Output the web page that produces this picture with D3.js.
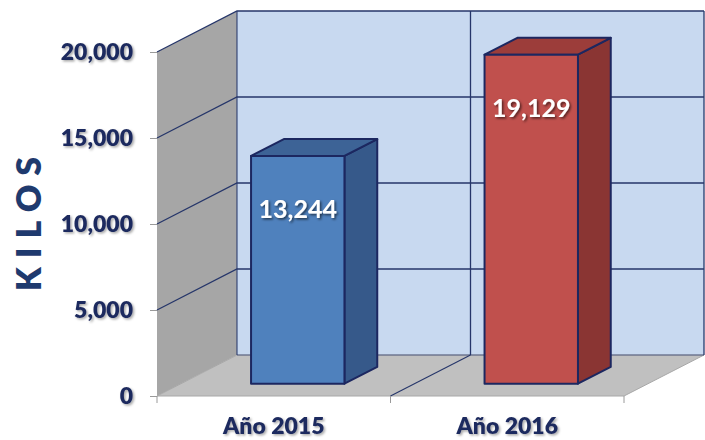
<!DOCTYPE html>
<html><head><meta charset="utf-8">
<script src="https://cdn.jsdelivr.net/npm/d3@7"></script>
<style>
html,body{margin:0;padding:0;background:#fff;}
svg{display:block;font-family:Lato,"Open Sans",sans-serif;}
</style></head>
<body>
<svg id="chart" width="705" height="440"></svg>
<script>
const categories = ["Año 2015", "Año 2016"];
const values = [13244, 19129];
const tickValues = [0, 5000, 10000, 15000, 20000];
const axisTitle = "KILOS";
const barFront = ["#4f81bd", "#c0504d"];
const barSide = ["#36598a", "#8a3533"];
const barTop = ["#3d6396", "#9c3d3a"];

const svg = d3.select("#chart");
const DX = 80, DY = 41;        // depth offset of the back wall
const x = d3.scaleBand().domain(categories).range([157, 624]);
const y = d3.scaleLinear().domain([0, 20000]).range([396, 52]);
const P = (px, v, d) => [px + d * DX, y(v) - d * DY];

const defs = svg.append("defs");
const f1 = defs.append("filter").attr("id", "sh").attr("x", "-20%").attr("y", "-20%").attr("width", "140%").attr("height", "160%");
f1.append("feDropShadow").attr("dx", 1.5).attr("dy", 1.5).attr("stdDeviation", 1.2).attr("flood-color", "#000").attr("flood-opacity", 0.35);
const f2 = defs.append("filter").attr("id", "shw").attr("x", "-20%").attr("y", "-20%").attr("width", "140%").attr("height", "160%");
f2.append("feDropShadow").attr("dx", 1.5).attr("dy", 1.5).attr("stdDeviation", 1).attr("flood-color", "#000").attr("flood-opacity", 0.6);

const x0 = x.range()[0], x1 = x.range()[1];
const line = d3.line();
const grid = "#26366a";

// side wall
svg.append("path").attr("d", line([P(x0, 0, 0), P(x0, 0, 1), P(x0, 20000, 1), P(x0, 20000, 0)]) + "Z")
  .attr("fill", "#a6a6a6");
// back wall
svg.append("path").attr("d", line([P(x0, 0, 1), P(x1, 0, 1), P(x1, 20000, 1), P(x0, 20000, 1)]) + "Z")
  .attr("fill", "#c8d9f0");
// floor
svg.append("path").attr("d", line([P(x0, 0, 0), P(x1, 0, 0), P(x1, 0, 1), P(x0, 0, 1)]) + "Z")
  .attr("fill", "#c0c0c0").attr("stroke", "#a8a8a8").attr("stroke-width", 1);

// gridlines: side wall diagonals + back wall horizontals
tickValues.forEach(t => {
  if (t > 0) svg.append("path").attr("d", line([P(x0, t, 0), P(x0, t, 1), P(x1, t, 1)]))
    .attr("fill", "none").attr("stroke", grid).attr("stroke-width", 1.3);
});
svg.append("path").attr("d", line([P(x0, 0, 1), P(x1, 0, 1)])).attr("stroke", grid).attr("stroke-width", 1).attr("opacity", 0.7);
// back wall vertical lines
[x0, x0 + x.bandwidth(), x1].forEach((bx, i) => {
  svg.append("path").attr("d", line([P(bx, 0, 1), P(bx, 20000, 1)]))
    .attr("stroke", grid).attr("stroke-width", 1.3).attr("opacity", i === 0 ? 0.8 : 1);
});
// floor divider
svg.append("path").attr("d", line([P(x0 + x.bandwidth(), 0, 0), P(x0 + x.bandwidth(), 0, 1)]))
  .attr("stroke", grid).attr("stroke-width", 1.1);

// bars
const bw = x.bandwidth() * 0.4, dFront = 0.3, dBack = 0.71;
categories.forEach((c, i) => {
  const cx = x(c) + x.bandwidth() / 2;
  const l = cx - bw / 2, r = cx + bw / 2, v = values[i];
  const g = svg.append("g").attr("stroke", "#1c2760").attr("stroke-width", 2).attr("stroke-linejoin", "round");
  g.append("path").attr("d", line([P(r, 0, dFront), P(r, 0, dBack), P(r, v, dBack), P(r, v, dFront)]) + "Z").attr("fill", barSide[i]);
  g.append("path").attr("d", line([P(l, v, dFront), P(r, v, dFront), P(r, v, dBack), P(l, v, dBack)]) + "Z").attr("fill", barTop[i]);
  g.append("path").attr("d", line([P(l, 0, dFront), P(r, 0, dFront), P(r, v, dFront), P(l, v, dFront)]) + "Z").attr("fill", barFront[i]);
  const [lx, ly] = P(cx, v, dFront);
  svg.append("text").attr("x", lx).attr("y", ly + 62).attr("text-anchor", "middle")
    .attr("fill", "#fff").attr("font-weight", 700).attr("font-size", 25).attr("filter", "url(#shw)")
    .text(d3.format(",")(v));
});

// y axis
const ya = svg.append("g").attr("transform", `translate(${x0},0)`)
  .call(d3.axisLeft(y).tickValues(tickValues).tickSize(7).tickPadding(17).tickFormat(d3.format(",")));
ya.select(".domain").remove();
ya.selectAll(".tick line").attr("stroke", "#9a9a9a");
ya.selectAll(".tick text").attr("fill", "#1f2b5e").attr("font-size", 23).attr("font-weight", 800)
  .attr("font-family", "Lato, sans-serif").attr("filter", "url(#sh)");

// x axis ticks at boundaries, labels centred
[x0, x0 + x.bandwidth(), x1].forEach(bx => {
  svg.append("line").attr("x1", bx).attr("x2", bx).attr("y1", y(0)).attr("y2", y(0) + 7).attr("stroke", "#9a9a9a");
});
svg.selectAll(".cat").data(categories).join("text").attr("class", "cat")
  .attr("x", d => x(d) + x.bandwidth() / 2).attr("y", 434).attr("text-anchor", "middle")
  .attr("fill", "#1f2b5e").attr("font-size", 23).attr("font-weight", 800).attr("filter", "url(#sh)")
  .text(d => d);

// axis title
svg.append("text").attr("transform", "translate(41,224) rotate(-90)").attr("text-anchor", "middle")
  .attr("fill", "#1f3a6e").attr("font-size", 34).attr("font-weight", 800)
  .style("letter-spacing", "9px").attr("dx", 4.5).text(axisTitle);
</script>
</body></html>
